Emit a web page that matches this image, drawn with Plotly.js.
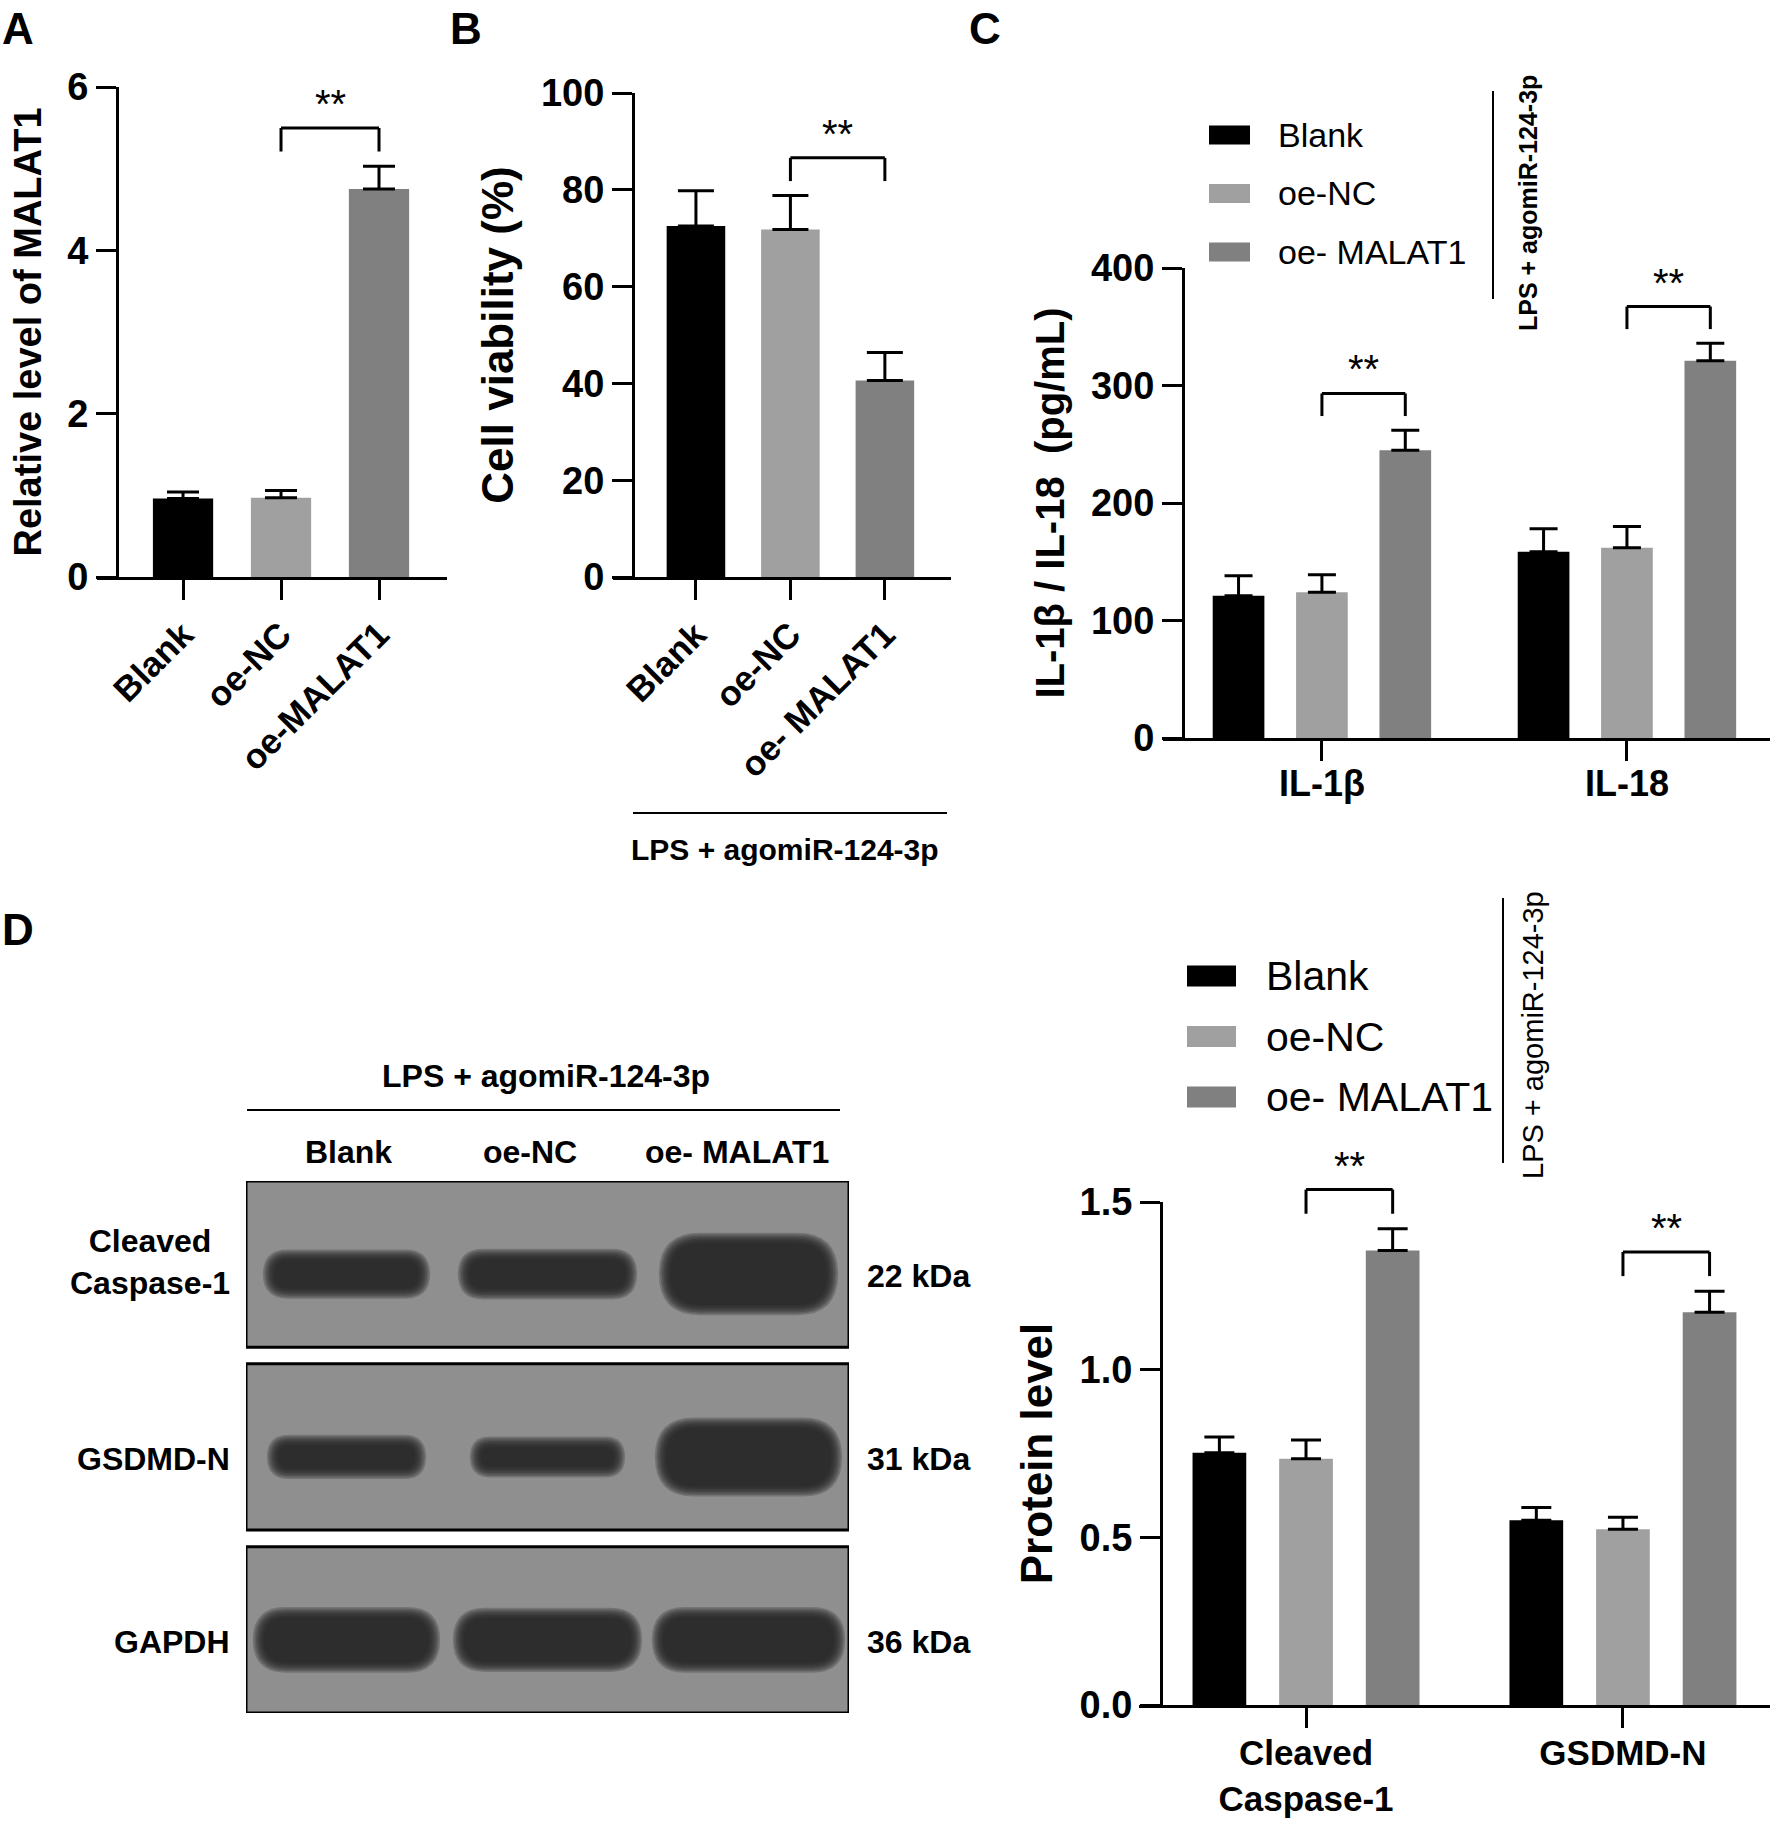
<!DOCTYPE html>
<html>
<head>
<meta charset="utf-8">
<script src="https://cdn.plot.ly/plotly-3.0.1.min.js"></script>
<style>
html, body { margin: 0; padding: 0; background: #fff; }
#fig { width: 1770px; height: 1821px; }
</style>
</head>
<body>
<div id="fig"></div>
<script>
// groups shared by all panels
var groups = ['Blank', 'oe-NC', 'oe- MALAT1'];
var groupColors = ['#000000', '#a0a0a0', '#808080'];

// A - relative level of MALAT1
var catsA = ['Blank', 'oe-NC', 'oe-MALAT1'];
var meanA = [0.96, 0.97, 4.75];
var sdA = [0.08, 0.09, 0.28];

// B - cell viability (%)
var catsB = ['Blank', 'oe-NC', 'oe- MALAT1'];
var meanB = [72.5, 71.8, 40.6];
var sdB = [7.3, 7.0, 5.8];

// C - IL-1b / IL-18 (pg/mL), one row per group
var catsC = ['IL-1β', 'IL-18'];
var meanC = [[121, 158.5], [124, 162], [245, 321]];
var sdC = [[17, 19.5], [15, 18], [17, 15]];

// D - protein level, one row per group
var catsD = ['Cleaved<br>Caspase-1', 'GSDMD-N'];
var meanD = [[0.752, 0.551], [0.734, 0.524], [1.355, 1.171]];
var sdD = [[0.047, 0.038], [0.056, 0.036], [0.065, 0.063]];

// western blot: rows, marker sizes, band thickness / width per lane
var blotRows = ['Cleaved<br>Caspase-1', 'GSDMD-N', 'GAPDH'];
var blotKda = ['22 kDa', '31 kDa', '36 kDa'];
var bandThick = [[0.17, 0.18, 0.37], [0.14, 0.12, 0.35], [0.27, 0.26, 0.27]];
var bandWidth = [[0.72, 0.78, 0.78], [0.68, 0.66, 0.82], [0.82, 0.83, 0.85]];

(function () {
var W = 1770, H = 1821;
function px(x) { return x / W; }
function py(y) { return 1 - y / H; }

var FONT = 'Liberation Sans, Arial, sans-serif';
var BARGAP = 0.18, GROUPGAP = 0.38;
var shapes = [], annotations = [], data = [];

function yAxis(range, pos, dom, dtick, title, tsize, fmt) {
  return {
    range: range, domain: dom, anchor: 'free', position: pos,
    showline: true, linewidth: 3, linecolor: '#000',
    ticks: 'outside', ticklen: 20, tickwidth: 3, tickcolor: '#000',
    tick0: 0, dtick: dtick, tickformat: fmt || '',
    showgrid: false, zeroline: false,
    tickfont: {size: 38, weight: 'bold', color: '#000'},
    title: {text: title, font: {size: tsize, weight: 'bold', color: '#000'}, standoff: 12}
  };
}
function xAxis(range, dom, yname, angle, fsize, shift) {
  return {
    type: 'category', range: range, domain: dom, anchor: yname,
    showline: true, linewidth: 3, linecolor: '#000',
    ticks: 'outside', ticklen: 20, tickwidth: 3, tickcolor: '#000',
    tickangle: angle, showgrid: false, zeroline: false, ticklabelstandoff: shift || 0,
    tickfont: {size: fsize, weight: 'bold', color: '#000'}
  };
}
function errs(sd, w) {
  return {type: 'data', symmetric: false, array: sd, arrayminus: sd.map(function () { return 0; }),
          color: '#000', thickness: 3, width: w};
}
// brackets sit above the plotted values, so they use the axis domain (not clipped)
function seg(xa, ya, x0, y0, x1, y1) {
  shapes.push({type: 'line', xref: xa, yref: ya + ' domain', x0: x0, y0: y0, x1: x1, y1: y1,
               line: {color: '#000', width: 3}});
}
function bracket(xa, ya, i0, i1, t0, t1, span) {
  var base = Math.max(t0, t1) / span;
  var leg = base + 0.03, hi = base + 0.078;
  seg(xa, ya, i0, leg, i0, hi);
  seg(xa, ya, i0, hi, i1, hi);
  seg(xa, ya, i1, hi, i1, leg);
  annotations.push({xref: xa, yref: ya + ' domain', x: (i0 + i1) / 2, y: hi, yanchor: 'bottom', yshift: 0,
                    text: '**', showarrow: false, font: {size: 40, color: '#000'}});
}
function paperText(x, y, text, size, bold, opts) {
  var a = {xref: 'paper', yref: 'paper', x: px(x), y: py(y), text: text, showarrow: false,
           font: {size: size, weight: bold ? 'bold' : 'normal', color: '#000'}};
  for (var k in opts) a[k] = opts[k];
  annotations.push(a);
}
function paperLine(x0, y0, x1, y1, w) {
  shapes.push({type: 'line', xref: 'paper', yref: 'paper', x0: px(x0), y0: py(y0), x1: px(x1), y1: py(y1),
               line: {color: '#000', width: w || 2}});
}

// ---- A ----
data.push({type: 'bar', x: catsA, y: meanA, xaxis: 'x', yaxis: 'y', width: 0.615,
           marker: {color: groupColors, line: {width: 0}}, error_y: errs(sdA, 16),
           showlegend: false, hoverinfo: 'skip'});
bracket('x', 'y', 1, 2, meanA[1] + sdA[1], meanA[2] + sdA[2], 6);

// ---- B ----
data.push({type: 'bar', x: catsB, y: meanB, xaxis: 'x2', yaxis: 'y2', width: 0.62,
           marker: {color: groupColors, line: {width: 0}}, error_y: errs(sdB, 18),
           showlegend: false, hoverinfo: 'skip'});
bracket('x2', 'y2', 1, 2, meanB[1] + sdB[1], meanB[2] + sdB[2], 100);

// ---- C and D grouped bars ----
var slot = (1 - BARGAP) / groups.length;
function grouped(cats, means, sds, xa, ya, capw, span) {
  for (var g = 0; g < groups.length; g++) {
    data.push({type: 'bar', name: groups[g], x: cats, y: means[g], xaxis: xa, yaxis: ya,
               marker: {color: groupColors[g], line: {width: 0}}, error_y: errs(sds[g], capw),
               showlegend: false, hoverinfo: 'skip'});
  }
  for (var c = 0; c < cats.length; c++) {
    bracket(xa, ya, c, c + slot, means[1][c] + sds[1][c], means[2][c] + sds[2][c], span);
  }
}
grouped(catsC, meanC, sdC, 'x3', 'y3', 14, 400);
grouped(catsD, meanD, sdD, 'x4', 'y4', 15, 1.5);

// custom legends for C and D
function legendBlock(x0, x1, yc, step, h, tx, fsize) {
  for (var g = 0; g < groups.length; g++) {
    var y = yc + g * step;
    shapes.push({type: 'rect', xref: 'paper', yref: 'paper', x0: px(x0), x1: px(x1),
                 y0: py(y - h / 2), y1: py(y + h / 2), fillcolor: groupColors[g], line: {width: 0}});
    paperText(tx, y, groups[g], fsize, false, {xanchor: 'left', yanchor: 'middle'});
  }
}
legendBlock(1209, 1250, 135, 58.5, 19, 1276, 34);
legendBlock(1187, 1236, 976, 60.5, 21, 1264, 41);

// side labels "LPS + agomiR-124-3p"
paperLine(1493, 91, 1493, 299, 2);
paperText(1528, 203, 'LPS + agomiR-124-3p', 25, true, {textangle: -90, xanchor: 'center', yanchor: 'middle'});
paperLine(1503, 898, 1503, 1163, 2);
paperText(1533, 1035, 'LPS + agomiR-124-3p', 29, false, {textangle: -90, xanchor: 'center', yanchor: 'middle'});
paperLine(633, 813, 947, 813, 2);
paperText(785, 849, 'LPS + agomiR-124-3p', 30, true, {xanchor: 'center', yanchor: 'middle'});

// panel letters
paperText(18, 29, 'A', 44, true, {xanchor: 'center', yanchor: 'middle'});
paperText(466, 29, 'B', 44, true, {xanchor: 'center', yanchor: 'middle'});
paperText(985, 29, 'C', 44, true, {xanchor: 'center', yanchor: 'middle'});
paperText(18, 929, 'D', 44, true, {xanchor: 'center', yanchor: 'middle'});

// ---- western blot (x5/y5: lanes 0..3, strips of height 1 with 0.1 gap) ----
var STRIP = 1.1;
function pill(cx, cy, w, h) {
  var rx = Math.min((h * 166 / 2) / 201, w / 2), ry = h / 2;
  var x0 = cx - w / 2, x1 = cx + w / 2, y0 = cy - h / 2, y1 = cy + h / 2;
  return 'M' + (x0 + rx) + ',' + y0 + ' L' + (x1 - rx) + ',' + y0 +
         ' Q' + x1 + ',' + y0 + ' ' + x1 + ',' + (y0 + ry) +
         ' L' + x1 + ',' + (y1 - ry) + ' Q' + x1 + ',' + y1 + ' ' + (x1 - rx) + ',' + y1 +
         ' L' + (x0 + rx) + ',' + y1 + ' Q' + x0 + ',' + y1 + ' ' + x0 + ',' + (y1 - ry) +
         ' L' + x0 + ',' + (y0 + ry) + ' Q' + x0 + ',' + y0 + ' ' + (x0 + rx) + ',' + y0 + ' Z';
}
for (var r = 0; r < blotRows.length; r++) {
  var stripTop = r * STRIP;
  var twoLine = blotRows[r].indexOf('<br>') >= 0;
  shapes.push({type: 'rect', xref: 'x5', yref: 'y5', x0: 0, x1: 3, y0: stripTop, y1: stripTop + 1,
               fillcolor: '#8f8f8f', line: {color: '#000', width: 3}});
  for (var l = 0; l < 3; l++) {
    for (var k = 7; k >= 0; k--) {
      shapes.push({type: 'path', xref: 'x5', yref: 'y5',
                   path: pill(l + 0.5, stripTop + 0.56, bandWidth[r][l] + 0.016 * k, bandThick[r][l] + 0.018 * k),
                   fillcolor: '#242424', opacity: 0.25, line: {width: 0}});
    }
  }
  annotations.push({xref: 'paper', yref: 'y5', x: px(232), y: stripTop + (twoLine ? 0.49 : 0.57),
                    xanchor: 'right', yanchor: 'middle', align: 'center', text: blotRows[r], showarrow: false,
                    font: {size: 32, weight: 'bold', color: '#000'}});
  annotations.push({xref: 'paper', yref: 'y5', x: px(865), y: stripTop + 0.57, xanchor: 'left', yanchor: 'middle',
                    text: blotKda[r], showarrow: false, font: {size: 32, weight: 'bold', color: '#000'}});
}
for (var l2 = 0; l2 < groups.length; l2++) {
  annotations.push({xref: 'x5', yref: 'paper', x: l2 + 0.5, y: py(1152), xanchor: 'center', yanchor: 'middle',
                    xshift: [2, -18, -12][l2],
                    text: groups[l2], showarrow: false, font: {size: 32, weight: 'bold', color: '#000'}});
}
paperLine(247, 1110, 840, 1110, 2);
paperText(546, 1076, 'LPS + agomiR-124-3p', 32, true, {xanchor: 'center', yanchor: 'middle'});
// anchor trace so the blot subplot exists
data.push({type: 'scatter', x: [0.5, 1.5, 2.5], y: [0.5, 0.5, 0.5], xaxis: 'x5', yaxis: 'y5',
           mode: 'markers', marker: {opacity: 0}, showlegend: false, hoverinfo: 'skip'});

var layout = {
  width: W, height: H, margin: {l: 0, r: 0, t: 0, b: 0},
  paper_bgcolor: '#fff', plot_bgcolor: 'rgba(0,0,0,0)',
  font: {family: FONT, color: '#000'},
  barmode: 'group', bargap: BARGAP, bargroupgap: GROUPGAP,
  showlegend: false,
  xaxis: xAxis([-0.878, 2.694], [px(97), px(447)], 'y', -45, 35),
  yaxis: yAxis([0, 6], px(117), [py(577), py(87)], 2, 'Relative level of MALAT1', 38),
  xaxis2: xAxis([-0.878, 2.70], [px(613), px(951)], 'y2', -45, 35),
  yaxis2: yAxis([0, 100], px(633), [py(577), py(93)], 20, 'Cell viability (%)', 44),
  xaxis3: xAxis([-0.521, 1.469], [px(1163), px(1770)], 'y3', 0, 36, -8),
  yaxis3: yAxis([0, 400], px(1183), [py(738), py(268)], 100, 'IL-1β / IL-18 &nbsp;(pg/mL)', 40),
  xaxis4: xAxis([-0.527, 1.464], [px(1139), px(1770)], 'y4', 0, 35, -5),
  yaxis4: yAxis([0, 1.5], px(1161), [py(1705), py(1202)], 0.5, 'Protein level', 44, '.1f'),
  xaxis5: {domain: [px(246), px(849)], range: [0, 3], anchor: 'y5', visible: false, fixedrange: true},
  yaxis5: {domain: [py(1713), py(1181)], range: [3.2, 0], anchor: 'x5', visible: false, fixedrange: true},
  shapes: shapes,
  annotations: annotations
};

Plotly.newPlot('fig', data, layout, {displayModeBar: false, staticPlot: true});
})();
</script>
</body>
</html>
